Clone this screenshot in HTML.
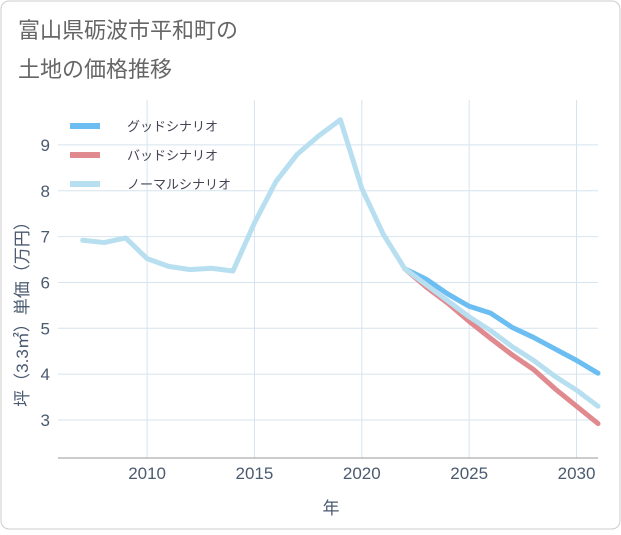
<!DOCTYPE html>
<html><head><meta charset="utf-8"><style>
body{margin:0;background:#fff}
#c{position:relative;width:621px;height:530px;font-family:"Liberation Sans","Noto Sans CJK JP",sans-serif}
</style></head><body>
<div id="c">
<svg id="s" width="621" height="530" xmlns="http://www.w3.org/2000/svg">
<rect x="1" y="1" width="619" height="528" rx="8" fill="#fff" stroke="#ccc"/>
<text x="18" y="38" font-size="22" fill="#666">富山県砺波市平和町の</text>
<text x="18" y="77" font-size="22" fill="#666">土地の価格推移</text>
<g id="grid"></g><g id="series"></g><g id="axes"></g>
<text x="331" y="514" font-size="17" fill="#4a5a70" text-anchor="middle">年</text>
<text transform="translate(28,310) rotate(-90)" font-size="17" fill="#4a5a70" text-anchor="middle">坪（3.3㎡）単価（万円）</text>
<g id="legend"></g>
</svg></div>
<script>
const years=[2007,2008,2009,2010,2011,2012,2013,2014,2015,2016,2017,2018,2019,2020,2021,2022,2023,2024,2025,2026,2027,2028,2029,2030,2031];
const normal=[6.92,6.87,6.97,6.52,6.35,6.28,6.31,6.25,7.3,8.2,8.8,9.2,9.55,8.05,7.05,6.3,5.95,5.6,5.25,4.95,4.6,4.3,3.95,3.65,3.3];
const futureYears=[2022,2023,2024,2025,2026,2027,2028,2029,2030,2031];
const good=[6.3,6.07,5.75,5.48,5.33,5.02,4.8,4.55,4.3,4.02];
const bad=[6.3,5.9,5.55,5.15,4.78,4.42,4.1,3.68,3.3,2.92];
const xTicks=[2010,2015,2020,2025,2030];
const yTicks=[3,4,5,6,7,8,9];
const L=58,R=598,T=100,B=458,x0=2005.85,x1=2031,y0=2.17,y1=9.98;
const X=v=>L+(v-x0)/(x1-x0)*(R-L), Y=v=>B-(v-y0)/(y1-y0)*(B-T);
const NS="http://www.w3.org/2000/svg";
function mk(p,t,a){const e=document.createElementNS(NS,t);for(const k in a)e.setAttribute(k,a[k]);p.appendChild(e);return e;}
const g=document.getElementById('grid'),ax=document.getElementById('axes'),se=document.getElementById('series'),lg=document.getElementById('legend');
xTicks.forEach(v=>{const l=mk(g,'line',{x1:X(v),x2:X(v),y1:T,y2:B,stroke:'#d6e4ef'});
const t=mk(ax,'text',{x:X(v),y:B+21,'font-size':17,fill:'#4a5a70','text-anchor':'middle'});t.textContent=v;});
yTicks.forEach(v=>{const l=mk(g,'line',{x1:L,x2:R,y1:Y(v),y2:Y(v),stroke:'#d6e4ef'});
const t=mk(ax,'text',{x:L-8,y:Y(v)+6,'font-size':17,fill:'#4a5a70','text-anchor':'end'});t.textContent=v;});
const xa=mk(ax,'line',{x1:L,x2:R,y1:B,y2:B,stroke:'#999'});
function line(xs,ys,c,n){const p=mk(se,'polyline',{points:xs.map((x,i)=>X(x)+','+Y(ys[i])).join(' '),fill:'none',stroke:c,'stroke-width':5,'stroke-linejoin':'round','stroke-linecap':'round'});}
line(futureYears,good,'#6bbdf2','good-scenario-line');
line(futureYears,bad,'#e08a90','bad-scenario-line');
line(years,normal,'#b8dff0','normal-scenario-line');
[['グッドシナリオ','#6bbdf2'],['バッドシナリオ','#e08a90'],['ノーマルシナリオ','#b8dff0']].forEach((d,i)=>{const y=126+i*29;
const l=mk(lg,'line',{x1:70,x2:100,y1:y,y2:y,stroke:d[1],'stroke-width':6});
const t=mk(lg,'text',{x:127,y:y+5,'font-size':13,fill:'#445'});t.textContent=d[0];});
</script></body></html>
